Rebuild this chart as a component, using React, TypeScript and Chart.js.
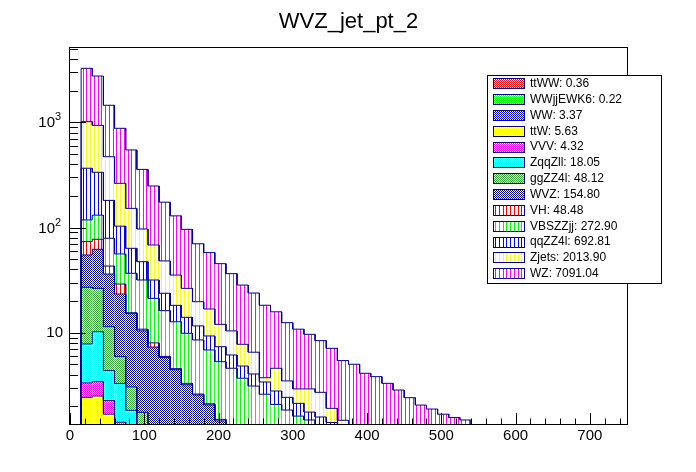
import React, { useEffect, useRef } from 'react';
import { Chart, registerables } from 'chart.js';

Chart.register(...registerables);

// ---------------- data ----------------
const BIN_LOW_EDGES = [15, 30, 45, 60, 75, 90, 105, 120, 135, 150, 165, 180, 195, 210, 225, 240, 255, 270, 285, 300, 315, 330, 345, 360, 375, 390, 405, 420, 435, 450, 465, 480, 495, 510, 525];
const BIN_WIDTH = 15;

const X_TICK_VALUES = [0, 100, 200, 300, 400, 500, 600, 700];
const X_TICK_LABELS = ['0', '100', '200', '300', '400', '500', '600', '700'];
const Y_TICK_VALUES = [10, 100, 1000];
const Y_TICK_BASES = ['10', '10', '10'];
const Y_TICK_EXPONENTS = ['', '2', '3'];
const Y_MIN = 1.355;
const Y_MAX = 5200;
const X_MIN = 0;
const X_MAX = 750;

const TITLE = 'WVZ_jet_pt_2';
const SAMPLE_NAMES = ['ttWW', 'WWjjEWK6', 'WW', 'ttW', 'VVV', 'ZqqZll', 'ggZZ4l', 'WVZ', 'VH', 'VBSZZjj', 'qqZZ4l', 'Zjets', 'WZ'];
const SAMPLE_YIELDS = ['0.36', '0.22', '3.37', '5.63', '4.32', '18.05', '48.12', '154.80', '48.48', '272.90', '692.81', '2013.90', '7091.04'];

const ttWW = [0.04, 0.04, 0.03, 0.03, 0.02, 0.02, 0.02, 0.01, 0.01, 0.01, 0.01, 0.01, 0.01, 0.01, 0.01, 0.01, 0.01, 0, 0, 0, 0, 0, 0, 0, 0, 0, 0, 0, 0, 0, 0, 0, 0, 0, 0];
const WWjjEWK6 = [0.02, 0.02, 0.02, 0.02, 0.01, 0.01, 0.01, 0.01, 0.01, 0.01, 0.01, 0.01, 0.01, 0.01, 0.01, 0, 0, 0, 0, 0, 0, 0, 0, 0, 0, 0, 0, 0, 0, 0, 0, 0, 0, 0, 0];
const WW = [0.6, 0.65, 0.45, 0.35, 0.27, 0.2, 0.15, 0.12, 0.1, 0.08, 0.06, 0.05, 0.04, 0.04, 0.03, 0.03, 0.02, 0.02, 0.01, 0.01, 0.01, 0.01, 0, 0, 0, 0, 0, 0, 0, 0, 0, 0, 0, 0, 0];
const ttW = [1.77, 1.79, 1.18, 0.7, 0.4, 0.25, 0.15, 0.1, 0.06, 0.04, 0.03, 0.02, 0.02, 0.01, 0.01, 0.01, 0, 0, 0, 0, 0, 0, 0, 0, 0, 0, 0, 0, 0, 0, 0, 0, 0, 0, 0];
const VVV = [0.9, 0.92, 0.58, 0.31, 0.2, 0.15, 0.1, 0.08, 0.05, 0.04, 0.03, 0.02, 0.02, 0.01, 0.01, 0.01, 0, 0, 0, 0, 0, 0, 0, 0, 0, 0, 0, 0, 0, 0, 0, 0, 0, 0, 0];
const ZqqZll = [4.48, 6.78, 2.1, 1.89, 0.93, 0.45, 0.3, 0.2, 0.15, 0.1, 0.08, 0.05, 0.04, 0.03, 0.02, 0.02, 0.01, 0.01, 0, 0, 0, 0, 0, 0, 0, 0, 0, 0, 0, 0, 0, 0, 0, 0, 0];
const ggZZ4l = [19.2, 16.2, 7.04, 2.62, 1.22, 0.67, 0.42, 0.3, 0.2, 0.15, 0.1, 0.08, 0.05, 0.04, 0.03, 0.02, 0.02, 0.01, 0.01, 0, 0, 0, 0, 0, 0, 0, 0, 0, 0, 0, 0, 0, 0, 0, 0];
const WVZ = [27.8, 35.7, 24.7, 17.4, 12.25, 8.65, 6.15, 4.98, 3.87, 2.77, 2.24, 1.82, 1.26, 1.0, 0.78, 0.55, 0.45, 0.32, 0.22, 0.16, 0.11, 0.08, 0.05, 0.04, 0.03, 0.02, 0.01, 0, 0, 0, 0, 0, 0, 0, 0];
const VH = [18.5, 15.2, 6.9, 5.7, 0.15, 0.4, 0.7, 0.15, 0.1, 0.1, 0.05, 0.05, 0.05, 0.04, 0.04, 0.03, 0.03, 0.02, 0.02, 0.02, 0.01, 0.01, 0.01, 0, 0, 0, 0, 0, 0, 0, 0, 0, 0, 0, 0];
const VBSZZjj = [44.7, 53.7, 36.0, 27.0, 21.25, 20.9, 13.2, 10.25, 8.15, 6.57, 5.92, 4.74, 3.8, 3.4, 2.75, 2.43, 2.06, 1.7, 1.58, 1.42, 1.35, 1.2, 1.04, 0.85, 0.65, 0.5, 0.4, 0.3, 0.25, 0.2, 0.15, 0.1, 0.08, 0.05, 0.03];
const qqZZ4l = [248, 204, 102, 47, 26.7, 15.6, 10.5, 7.5, 5.5, 4.13, 3.07, 2.46, 2.06, 1.55, 1.13, 0.94, 0.8, 0.71, 0.59, 0.52, 0.28, 0.28, 0.3, 0.25, 0.2, 0.15, 0.12, 0.1, 0.08, 0.06, 0.05, 0.04, 0.03, 0.02, 0.01];
const Zjets = [648, 601, 290, 160, 88.6, 49.5, 36.5, 24.4, 17.1, 12.4, 8.1, 7.49, 4.64, 4.26, 2.94, 2.47, 0.33, 1.8, 1.05, 0.79, 1.16, 1.13, 0.51, 0.33, 0.1, 0.08, 0.06, 0.05, 0.04, 0.03, 0.02, 0.02, 0.01, 0.01, 0.01];
const WZ = [2246, 1819, 981, 614, 394, 260, 180, 126, 93.7, 69.6, 50.3, 40.9, 33.3, 26.0, 20.6, 17.3, 14.5, 11.2, 8.97, 7.88, 6.73, 5.69, 5.19, 3.96, 4.03, 3.36, 3.23, 2.85, 2.48, 2.12, 1.83, 1.72, 1.56, 1.48, 1.43];

const SERIES = [ttWW, WWjjEWK6, WW, ttW, VVV, ZqqZll, ggZZ4l, WVZ, VH, VBSZZjj, qqZZ4l, Zjets, WZ];

// ---------------- styles ----------------
const FONT = "'Liberation Sans', Arial, Helvetica, sans-serif";
const OUTLINE = '#000099';
const FILLS: { kind: 'checker' | 'vlines'; color: string }[] = [
  { kind: 'checker', color: '#ff0000' },
  { kind: 'checker', color: '#00ff00' },
  { kind: 'checker', color: '#0000ff' },
  { kind: 'checker', color: '#ffff00' },
  { kind: 'checker', color: '#ff00ff' },
  { kind: 'checker', color: '#00ffff' },
  { kind: 'checker', color: '#33aa33' },
  { kind: 'checker', color: '#000099' },
  { kind: 'vlines', color: '#ff0000' },
  { kind: 'vlines', color: '#00ff00' },
  { kind: 'vlines', color: '#0000ff' },
  { kind: 'vlines', color: '#ffff00' },
  { kind: 'vlines', color: '#ff00ff' },
];

function makePattern(ctx: CanvasRenderingContext2D, kind: string, color: string): CanvasPattern {
  const c = document.createElement('canvas');
  const w = kind === 'checker' ? 2 : 15;
  const h = 2;
  c.width = w;
  c.height = h;
  const g = c.getContext('2d') as CanvasRenderingContext2D;
  const img = g.createImageData(w, h);
  const r = parseInt(color.slice(1, 3), 16);
  const gg = parseInt(color.slice(3, 5), 16);
  const b = parseInt(color.slice(5, 7), 16);
  const lineCols = [0, 4, 8, 11];
  for (let y = 0; y < h; y++) {
    for (let x = 0; x < w; x++) {
      const on = kind === 'checker' ? (x + y) % 2 === 0 : lineCols.indexOf(x) >= 0;
      const o = (y * w + x) * 4;
      img.data[o] = on ? r : 255;
      img.data[o + 1] = on ? gg : 255;
      img.data[o + 2] = on ? b : 255;
      img.data[o + 3] = 255;
    }
  }
  g.putImageData(img, 0, 0);
  return ctx.createPattern(c, 'repeat') as CanvasPattern;
}

const rootStylePlugin = {
  id: 'rootStyle',
  beforeDatasetsDraw(chart: any) {
    chart.ctx.imageSmoothingEnabled = false;
  },
  afterDraw(chart: any) {
    const { ctx, chartArea: a } = chart;
    const xs = chart.scales.x;
    const ys = chart.scales.y;
    ctx.save();
    ctx.imageSmoothingEnabled = false;
    ctx.lineWidth = 1;
    ctx.strokeStyle = '#000';
    // frame
    ctx.strokeRect(a.left - 0.5, a.top + 0.5, a.right - a.left + 1, a.bottom - a.top);
    // x ticks (inside, from bottom)
    ctx.beginPath();
    for (let v = X_MIN; v < X_MAX; v += 20) {
      const px = Math.round(xs.getPixelForValue(v)) + 0.5;
      const len = v % 100 === 0 ? 11 : 5.5;
      ctx.moveTo(px, a.bottom);
      ctx.lineTo(px, a.bottom - len);
    }
    // y ticks (inside, from left)
    for (let d = 1; d <= 1000; d *= 10) {
      for (let m = 1; m <= 9; m++) {
        const v = m * d;
        if (v < Y_MIN || v > Y_MAX) continue;
        const py = Math.round(ys.getPixelForValue(v)) + 0.5;
        const len = m === 1 ? 16 : 8;
        ctx.moveTo(a.left, py);
        ctx.lineTo(a.left + len, py);
      }
    }
    ctx.stroke();

    // tick labels
    ctx.fillStyle = '#000';
    ctx.font = `15px ${FONT}`;
    ctx.textBaseline = 'middle';
    ctx.textAlign = 'center';
    X_TICK_VALUES.forEach((v, i) => {
      ctx.fillText(X_TICK_LABELS[i], xs.getPixelForValue(v), a.bottom + 12);
    });
    Y_TICK_VALUES.forEach((v, i) => {
      const py = ys.getPixelForValue(v);
      const exp = Y_TICK_EXPONENTS[i];
      ctx.textAlign = 'right';
      ctx.font = `15px ${FONT}`;
      if (!exp) {
        ctx.fillText(Y_TICK_BASES[i], a.left - 7, py + 0.5);
      } else {
        ctx.fillText(Y_TICK_BASES[i], a.left - 15, py + 1);
        ctx.textAlign = 'left';
        ctx.font = `11px ${FONT}`;
        ctx.fillText(exp, a.left - 15, py - 5);
      }
    });

    // legend box
    const lx = 487.5, ly = 75.5, lw = 174, lh = 208;
    ctx.fillStyle = '#fff';
    ctx.fillRect(lx, ly, lw, lh);
    ctx.strokeStyle = '#000';
    ctx.strokeRect(lx, ly, lw, lh);
    ctx.font = `12px ${FONT}`;
    ctx.textBaseline = 'middle';
    ctx.textAlign = 'left';
    const ds = chart.data.datasets.filter((d: any) => d.type === 'bar');
    ds.forEach((d: any, i: number) => {
      const cy = 83.3 + i * 15.83;
      const top = Math.round(cy - 5);
      ctx.fillStyle = d.backgroundColor;
      ctx.fillRect(494, top, 30, 10);
      ctx.strokeStyle = OUTLINE;
      ctx.strokeRect(493.5, top + 0.5, 31, 10);
      ctx.fillStyle = '#000';
      ctx.fillText(d.label, 530, cy + 0.5);
    });
    ctx.restore();
  },
};

export default function App() {
  const ref = useRef<HTMLCanvasElement>(null);

  useEffect(() => {
    const canvas = ref.current;
    if (!canvas) return;
    const ctx = canvas.getContext('2d') as CanvasRenderingContext2D;
    const patterns = FILLS.map((f) => makePattern(ctx, f.kind, f.color));

    // cumulative sums of the stack (for the outlines)
    const cum: number[][] = [];
    let running = BIN_LOW_EDGES.map(() => 0);
    SERIES.forEach((s) => {
      running = running.map((r, i) => r + s[i]);
      cum.push(running);
    });
    const floor = Y_MIN / 10;
    const lastEdge = BIN_LOW_EDGES[BIN_LOW_EDGES.length - 1] + BIN_WIDTH;
    const outline = (c: number[]) => {
      const pts: { x: number; y: number }[] = [{ x: BIN_LOW_EDGES[0], y: floor }];
      c.forEach((v, i) => {
        const y = Math.max(v, floor);
        pts.push({ x: BIN_LOW_EDGES[i], y }, { x: BIN_LOW_EDGES[i] + BIN_WIDTH, y });
      });
      pts.push({ x: lastEdge, y: floor });
      return pts;
    };

    const barSets = SERIES.map((s, k) => ({
      type: 'bar' as const,
      label: `${SAMPLE_NAMES[k]}: ${SAMPLE_YIELDS[k]}`,
      data: s.map((v, i) => ({ x: BIN_LOW_EDGES[i] + BIN_WIDTH / 2, y: v > 0 ? v : null })),
      backgroundColor: patterns[k],
      borderWidth: 0,
      inflateAmount: 0,
      grouped: false,
      stack: 'hist',
      categoryPercentage: 1,
      barPercentage: 1,
      order: 1,
    }));
    const lineSets = cum.map((c, k) => ({
      type: 'line' as const,
      label: `outline-${SAMPLE_NAMES[k]}`,
      data: outline(c),
      borderColor: OUTLINE,
      borderWidth: 1,
      pointRadius: 0,
      fill: false,
      tension: 0,
      stack: `outline-${k}`,
      order: 0,
    }));

    const chart = new Chart(ctx, {
      type: 'bar',
      data: { datasets: [...barSets, ...lineSets] as any },
      options: {
        animation: false,
        responsive: false,
        devicePixelRatio: 1,
        events: [],
        layout: { padding: { left: 70, right: 69, top: 0, bottom: 48 } },
        plugins: {
          legend: { display: false },
          tooltip: { enabled: false },
          title: {
            display: true,
            text: TITLE,
            color: '#000',
            font: { family: FONT, size: 22, weight: 'normal' },
            padding: { top: 8.5, bottom: 12.1 },
          },
        },
        scales: {
          x: {
            type: 'linear',
            display: false,
            min: X_MIN,
            max: X_MAX,
            offset: false,
          },
          y: {
            type: 'logarithmic',
            display: false,
            min: Y_MIN,
            max: Y_MAX,
            stacked: true,
          },
        } as any,
      },
      plugins: [rootStylePlugin],
    });
    return () => chart.destroy();
  }, []);

  return (
    <div style={{ position: 'absolute', left: 0, top: 0, width: 696, height: 472, background: '#fff' }}>
      <canvas
        ref={ref}
        width={696}
        height={472}
        style={{ display: 'block', width: 696, height: 472, imageRendering: 'pixelated' }}
      />
    </div>
  );
}
